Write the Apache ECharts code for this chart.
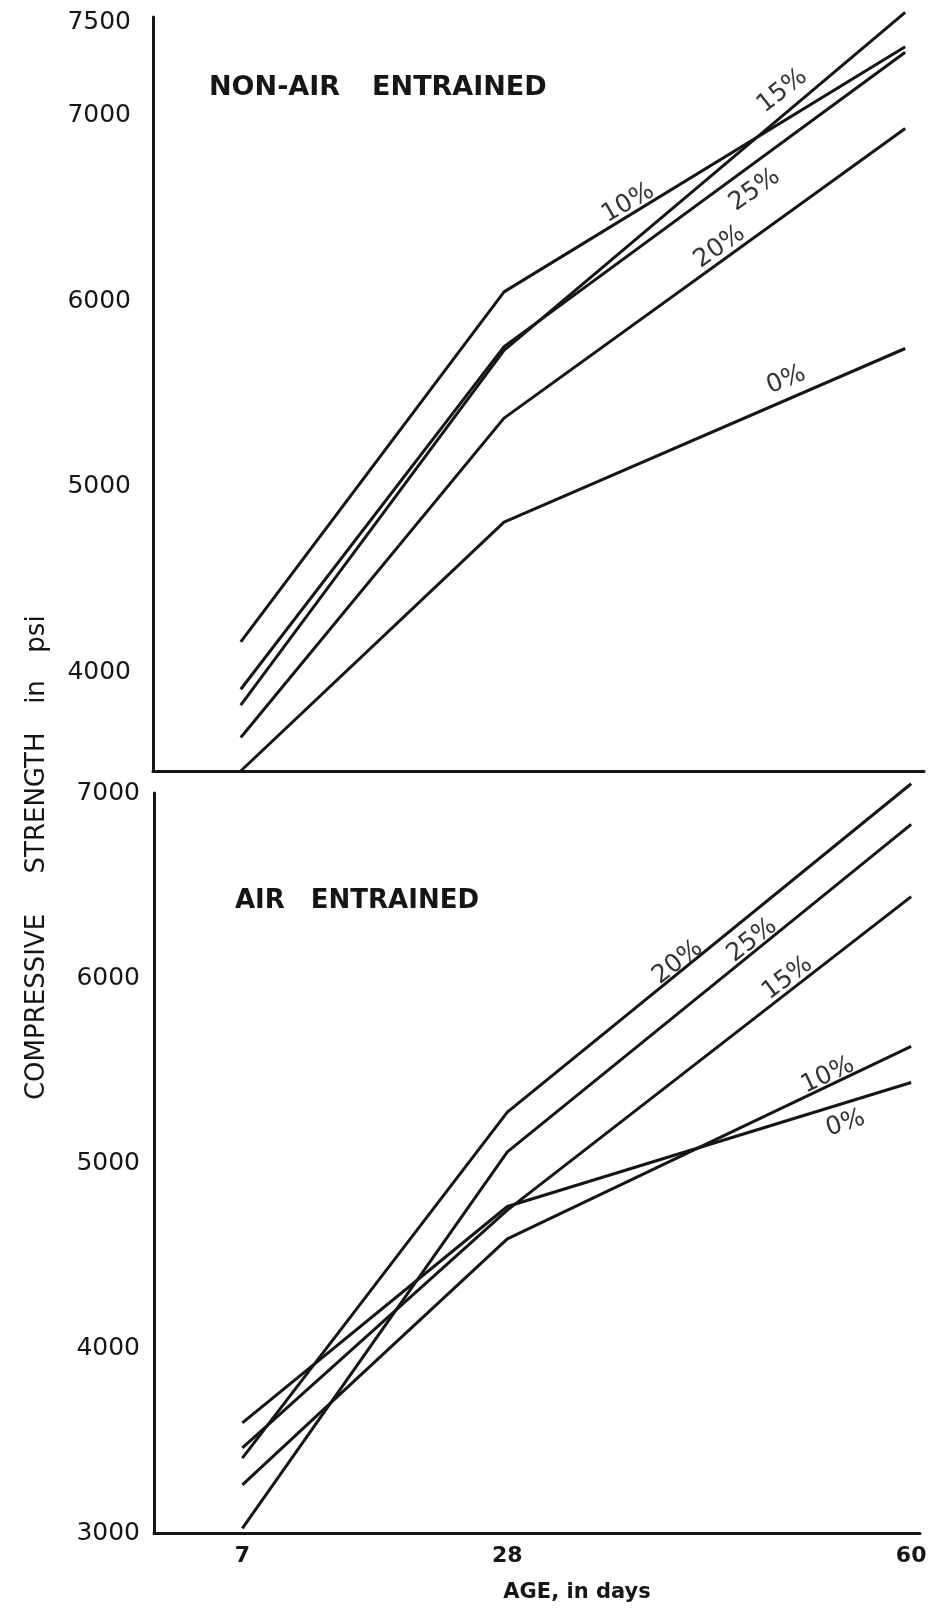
<!DOCTYPE html>
<html>
<head>
<meta charset="utf-8">
<script src="https://cdn.jsdelivr.net/npm/echarts@6/dist/echarts.min.js"></script>
<style>
  html, body { margin: 0; padding: 0; background: #ffffff; }
  #chart { width: 934px; height: 1616px; }
</style>
</head>
<body>
<div id="chart"></div>
<script>
// ---- data ----
const days = [7, 28, 60];
const seriesNames = ['0%', '10%', '15%', '20%', '25%'];

// Non-air entrained (top panel), compressive strength in psi
const nonAir0  = [3470, 4810, 5745];
const nonAir10 = [4165, 6050, 7370];
const nonAir15 = [3825, 5735, 7555];
const nonAir20 = [3650, 5370, 6930];
const nonAir25 = [3910, 5755, 7340];

// Air entrained (bottom panel)
const air0  = [3595, 4765, 5435];
const air10 = [3260, 4590, 5630];
const air15 = [3460, 4745, 6440];
const air20 = [3405, 5275, 7050];
const air25 = [3025, 5060, 6830];

// tick labels
const topYTicks = [4000, 5000, 6000, 7000, 7500];
const bottomYTicks = [3000, 4000, 5000, 6000, 7000];
const xTicks = [7, 28, 60];

// text
const topTitleWords = ['NON-AIR', 'ENTRAINED'];
const bottomTitleWords = ['AIR', 'ENTRAINED'];
const yNameWords = ['COMPRESSIVE', 'STRENGTH', 'in', 'psi'];
const xName = 'AGE, in days';

// line annotations: [day, psi] anchors and slant of the lettering
const topLabelDays = [50.5, 37.9, 50.2, 45.2, 48.0];
const topLabelVals = [5575, 6528, 7132, 6292, 6598];
const topLabelRot  = [22, 30, 38, 35, 35];
const botLabelDays = [54.8, 53.4, 50.2, 41.5, 47.4];
const botLabelVals = [5214, 5474, 5999, 6085, 6204];
const botLabelRot  = [18, 25, 37, 38, 38];

// ---- chart ----
const INK = '#161616';
const FONT = '"DejaVu Sans", sans-serif';
const chart = echarts.init(document.getElementById('chart'), null, { renderer: 'canvas' });

const topSets = [nonAir0, nonAir10, nonAir15, nonAir20, nonAir25];
const botSets = [air0, air10, air15, air20, air25];

function lineSeries(vals, name, idx) {
  return {
    type: 'line', name: name, xAxisIndex: idx, yAxisIndex: idx,
    data: days.map((d, i) => [d, vals[i]]),
    symbol: 'none', clip: false, silent: true,
    lineStyle: { color: INK, width: 3 },
    z: 3
  };
}
function labelSeries(ds, vs, rs, idx) {
  return {
    type: 'scatter', xAxisIndex: idx, yAxisIndex: idx,
    symbolSize: 1, silent: true, clip: false,
    itemStyle: { color: 'rgba(0,0,0,0)' },
    data: seriesNames.map((n, i) => ({
      name: n, value: [ds[i], vs[i]],
      label: { rotate: rs[i] }
    })),
    label: {
      show: true, position: 'inside', formatter: p => p.name,
      color: '#000', fontSize: 25, fontFamily: FONT
    },
    z: 4
  };
}

const axisLineStyle = { show: true, onZero: false, lineStyle: { color: INK, width: 3 } };
const plain = v => String(v);

function titleRich(words, size, gap) {
  return {
    text: '{a|' + words[0] + '}{b|' + words[1] + '}',
    textStyle: {
      rich: {
        a: { color: INK, fontSize: size, fontWeight: 'bold', fontFamily: FONT },
        b: { color: INK, fontSize: size, fontWeight: 'bold', fontFamily: FONT, padding: [0, 0, 0, gap] }
      }
    }
  };
}

const yNameCenters = [1007, 803, 692, 634];

const option = {
  backgroundColor: '#ffffff',
  animation: false,
  grid: [
    { left: 153, right: 10, top: 17, bottom: 845 },
    { left: 154, right: 14, top: 793, bottom: 83 }
  ],
  xAxis: [
    { gridIndex: 0, type: 'value', min: 0, max: 61.5,
      axisLine: axisLineStyle, axisTick: { show: false },
      axisLabel: { show: false }, splitLine: { show: false } },
    { gridIndex: 1, type: 'value', min: 0, max: 60.7,
      axisLine: axisLineStyle, axisTick: { show: false },
      axisLabel: { customValues: xTicks, formatter: plain, margin: 12, color: INK,
                   fontSize: 22, fontWeight: 'bold', fontFamily: FONT },
      splitLine: { show: false } }
  ],
  yAxis: [
    { gridIndex: 0, type: 'value', min: 3470, max: 7530,
      axisLine: axisLineStyle, axisTick: { show: false },
      axisLabel: { customValues: topYTicks, formatter: plain, margin: 22, color: INK,
                   fontSize: 25, fontFamily: FONT },
      splitLine: { show: false } },
    { gridIndex: 1, type: 'value', min: 3000, max: 7000,
      axisLine: axisLineStyle, axisTick: { show: false },
      axisLabel: { customValues: bottomYTicks, formatter: plain, margin: 14, color: INK,
                   fontSize: 25, fontFamily: FONT },
      splitLine: { show: false } }
  ],
  title: [
    Object.assign({ left: 204, top: 69 }, titleRich(topTitleWords, 27, 32)),
    Object.assign({ left: 230, top: 883 }, titleRich(bottomTitleWords, 26, 26))
  ],
  graphic: [
    ...yNameWords.map((w, i) => ({
      type: 'text', x: 37, y: yNameCenters[i], rotation: Math.PI / 2,
      style: { text: w, fill: INK, font: '26px "DejaVu Sans", sans-serif',
               textAlign: 'center', textVerticalAlign: 'middle' }
    })),
    { type: 'text', x: 577, y: 1593,
      style: { text: xName, fill: INK,
               font: 'bold 21px "DejaVu Sans", sans-serif',
               textAlign: 'center', textVerticalAlign: 'middle' } }
  ],
  series: [
    ...topSets.map((v, i) => lineSeries(v, 'Non-air ' + seriesNames[i], 0)),
    ...botSets.map((v, i) => lineSeries(v, 'Air ' + seriesNames[i], 1)),
    labelSeries(topLabelDays, topLabelVals, topLabelRot, 0),
    labelSeries(botLabelDays, botLabelVals, botLabelRot, 1)
  ]
};
chart.setOption(option);
</script>
</body>
</html>
